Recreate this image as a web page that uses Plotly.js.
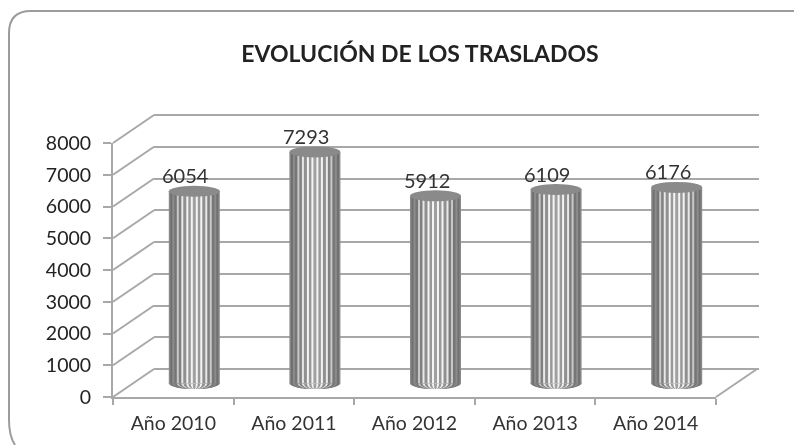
<!DOCTYPE html>
<html>
<head>
<meta charset="utf-8">
<script src="https://cdn.plot.ly/plotly-3.0.1.min.js"></script>
<style>html,body{margin:0;padding:0;background:#fff}#c{width:794px;height:445px;filter:blur(0.6px)}</style>
</head>
<body>
<div id="c"></div>
<script>
const categories = ["Año 2010","Año 2011","Año 2012","Año 2013","Año 2014"];
const values = [6054,7293,5912,6109,6176];
const yTicks = [0,1000,2000,3000,4000,5000,6000,7000,8000];
const titleText = "EVOLUCIÓN DE LOS TRASLADOS";

const W = 794, H = 445;
const px = v => v / W, py = v => 1 - v / H;
const FONT = "Lato, 'Noto Sans', sans-serif";
const GRID = "#a8a8a8", TXT = "#333333";
const FRONT_L = 113, FRONT_R = 716, FRONT_B = 397, FRONT_T = 143;
const CAT_PX = (FRONT_R - FRONT_L) / categories.length;
const PAD = 500, PAD_PX = PAD * (FRONT_B - FRONT_T) / 8000;

// nested bar widths in px (outer to inner) and shades give the cylinder's vertical stripes
const stripes = [
  [51,"#8a8a8a"],[48,"#707070"],[44,"#8c8c8c"],[40,"#767676"],[35,"#c8c8c8"],[31,"#808080"],
  [26,"#e8e8e8"],[22,"#909090"],[16,"#f4f4f4"],[12,"#999999"],[7,"#f4f4f4"],[3,"#a0a0a0"]
];

const traces = [
  {type:"scatter",mode:"none",x:categories,y:values,xaxis:"x",yaxis:"y",hoverinfo:"skip",showlegend:false},
  {type:"scatter",mode:"none",x:categories,y:values,xaxis:"x2",yaxis:"y2",hoverinfo:"skip",showlegend:false}
];
stripes.forEach(([w,c]) => traces.push({
  type:"bar",x:categories,y:values,width:w/CAT_PX,xaxis:"x3",yaxis:"y3",
  marker:{color:c,line:{width:0}},hoverinfo:"skip",showlegend:false
}));

const shapes = [];
// depth connectors from the front axes to the back wall (axis furniture, in paper space so they are not clipped)
const depth = (xp,yp) => ({type:"line",xref:"paper",yref:"paper",
  x0:px(xp),x1:px(xp+41),y0:py(yp),y1:py(yp-28),line:{color:GRID,width:2},layer:"below"});
yTicks.forEach(t => shapes.push(depth(FRONT_L, FRONT_B - t/8000*(FRONT_B-FRONT_T))));
shapes.push(depth(FRONT_R, FRONT_B));
// cylinder caps
const cap = (i,yv,layer,color,w) => ({type:"circle",xref:"x3",yref:"y3",xsizemode:"pixel",ysizemode:"pixel",
  xanchor:i,yanchor:yv,x0:-w/2,x1:w/2,y0:-5.5,y1:5.5,fillcolor:color,line:{width:0},layer:layer});
values.forEach((v,i) => {
  stripes.forEach(([w,c]) => shapes.push(cap(i,0,"below",c,w)));
  shapes.push(cap(i,v,"above","#8a8a8a",51));
});
// open chart frame
shapes.push({type:"path",xref:"paper",yref:"paper",layer:"below",line:{color:"#9c9c9c",width:2},
  path:`M ${px(15)} ${py(445)} Q ${px(9)} ${py(436)} ${px(9)} ${py(420)} L ${px(9)} ${py(33)} Q ${px(9)} ${py(11)} ${px(31)} ${py(11)} L ${px(794)} ${py(11)}`});

const annotations = values.map((v,i) => ({
  x:i,y:v,xref:"x3",yref:"y3",xshift:-9,yshift:2,yanchor:"bottom",xanchor:"center",
  text:String(v),showarrow:false,font:{family:FONT,size:20,color:TXT}
}));

const hiddenX = {type:"category",categoryorder:"array",categoryarray:categories,range:[-0.5,4.5],visible:false};
const layout = {
  width:W,height:H,margin:{l:0,r:0,t:0,b:0},
  paper_bgcolor:"#fff",plot_bgcolor:"rgba(0,0,0,0)",
  showlegend:false,barmode:"overlay",
  title:{text:"<b>"+titleText+"</b>",x:420/W,xanchor:"center",y:1-54/H,yanchor:"middle",font:{family:FONT,size:23,color:"#222222"}},
  // front axes: labels, ticks and axis lines
  xaxis:{domain:[px(FRONT_L),px(FRONT_R)],anchor:"y",type:"category",categoryorder:"array",categoryarray:categories,
    range:[-0.5,4.5],tickson:"boundaries",ticks:"outside",ticklen:6,tickcolor:GRID,tickwidth:2,
    showline:true,linecolor:GRID,linewidth:2,showgrid:false,zeroline:false,
    tickfont:{family:FONT,size:19.5,color:TXT},ticklabelstandoff:8},
  yaxis:{domain:[py(FRONT_B),py(FRONT_T)],anchor:"x",range:[0,8000],tickvals:yTicks,ticks:"outside",ticklen:8,
    tickcolor:GRID,tickwidth:2,showline:true,linecolor:GRID,linewidth:2,showgrid:false,zeroline:false,
    tickfont:{family:FONT,size:19.5,color:"#222222"},ticklabelstandoff:8},
  // back wall: horizontal gridlines
  xaxis2:Object.assign({},hiddenX,{domain:[px(154),px(759)],anchor:"y2"}),
  yaxis2:{domain:[py(369+PAD_PX),py(115-PAD_PX)],anchor:"x2",range:[-PAD,8000+PAD],tickvals:yTicks,showticklabels:false,
    showgrid:true,gridcolor:GRID,gridwidth:2,zeroline:true,zerolinecolor:GRID,zerolinewidth:2,showline:false,ticks:""},
  // mid-depth: the cylinders
  xaxis3:Object.assign({},hiddenX,{domain:[px(134),px(737)],anchor:"y3"}),
  yaxis3:{domain:[py(383.5+PAD_PX),py(129.5-PAD_PX)],anchor:"x3",range:[-PAD,8000+PAD],visible:false},
  shapes:shapes,annotations:annotations
};
Plotly.newPlot("c",traces,layout,{displayModeBar:false,staticPlot:true});
</script>
</body>
</html>
